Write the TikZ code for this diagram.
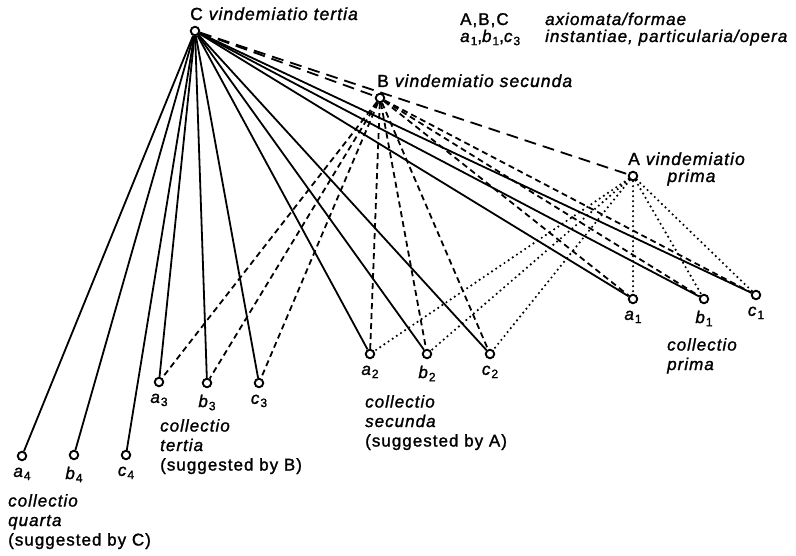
\documentclass[tikz,border=0pt]{standalone}
\usepackage{fontspec}
\setmainfont{Liberation Sans}[LetterSpace=6, FakeBold=1.4]
\usetikzlibrary{positioning}

\newcommand{\subidx}[1]{\raisebox{-0.35ex}{\fontsize{12}{12}\selectfont #1}}

\tikzset{
  pt/.style={circle, draw, line width=1.9pt, inner sep=0pt, minimum size=8.5pt, fill=white},
  solidline/.style={line width=1.8pt},
  longdash/.style={line width=1.8pt, dash pattern=on 12pt off 7pt},
  shortdash/.style={line width=1.8pt, dash pattern=on 6pt off 4pt},
  dotline/.style={line width=2.4pt, line cap=round, dash pattern=on 0pt off 5pt},
  txt/.style={inner sep=0pt, anchor=base west},
  blk/.style={inner sep=0pt, anchor=north west, align=left},
  big/.style={font=\fontsize{17.5}{20}\selectfont}
}

\begin{document}
\begin{tikzpicture}[x=1pt, y=-1pt, font=\fontsize{17}{19.5}\selectfont]
  \useasboundingbox (0,0) rectangle (796,556);

  % axiomata
  \node[pt] (C) at (195,31) {};
  \node[pt] (B) at (380,98) {};
  \node[pt] (A) at (633,176) {};

  % instantiae
  \foreach \n/\x/\y in {a1/633/299, b1/704/299, c1/756/295,
                        a2/370/354, b2/427/354, c2/490/354,
                        a3/159/382, b3/207/383, c3/259/383,
                        a4/22/456, b4/74/455, c4/126/455}
    \node[pt] (\n) at (\x,\y) {};

  \foreach \l/\i in {a/1,b/1,c/1,a/2,b/2,c/2,a/3,b/3,c/3,a/4,b/4,c/4}
    \node[below=3pt of \l\i] (l\l\i) {\textit{\l}\subidx{\i}};

  % C
  \foreach \n in {a4,b4,c4,a3,b3,c3,a2,b2,c2,a1,b1,c1}
    \draw[solidline] (C) -- (\n);
  \draw[longdash] (C) -- (B);
  \draw[longdash] (C) -- (A);

  % B
  \foreach \n in {a3,b3,c3,a2,b2,c2,a1,b1,c1}
    \draw[shortdash] (B) -- (\n);

  % A
  \foreach \n in {a2,b2,c2,a1,b1,c1}
    \draw[dotline] (A) -- (\n);

  % labels
  \node[txt, big] (tC) at (190,20) {C \textit{vindemiatio tertia}};
  \node[txt, big] (tB) at (377,87) {B \textit{vindemiatio secunda}};
  \node[txt, big] (tA) at (628,165) {A \textit{vindemiatio}};
  \node[inner sep=0pt, anchor=base, big] (tA2) at (692,182) {\textit{prima}};

  \node[blk] (k1) at (667,338) {\textit{collectio}\\\textit{prima}};
  \node[blk] (k2) at (365,395) {\textit{collectio}\\\textit{secunda}\\(suggested by A)};
  \node[blk] (k3) at (160,419) {\textit{collectio}\\\textit{tertia}\\(suggested by B)};
  \node[blk] (k4) at (8,494) {\textit{collectio}\\\textit{quarta}\\(suggested by C)};

  % legend
  \node[txt] (g1) at (460,25) {A,B,C};
  \node[txt] (g2) at (545,25) {\textit{axiomata/formae}};
  \node[txt] (g3) at (460,42) {\textit{a}\subidx{1},\textit{b}\subidx{1},\textit{c}\subidx{3}};
  \node[txt] (g4) at (545,42) {\textit{instantiae, particularia/opera}};
\end{tikzpicture}
\end{document}
